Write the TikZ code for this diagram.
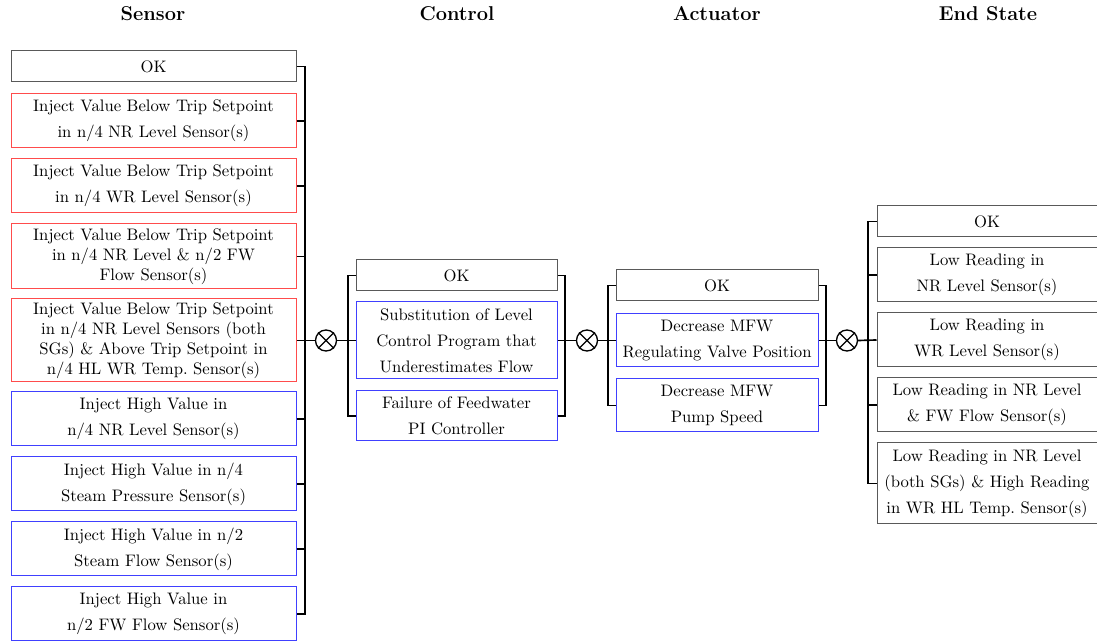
\documentclass[tikz,border=0pt]{standalone}
\usetikzlibrary{calc}
\begin{document}
\begin{tikzpicture}[x=0.6pt,y=-0.6pt,
  box/.style={draw=black!65, line width=0.6pt, fill=white, inner sep=0pt, align=center},
  okbox/.style={box},
  redbox/.style={box, draw=red!70},
  bluebox/.style={box, draw=blue!75},
  wire/.style={draw=black, line width=1pt},
  title/.style={font=\large\bfseries},
  otimes/.style={draw=black, line width=0.8pt, circle, minimum size=12.6pt, inner sep=0pt}
]
\useasboundingbox (0,0) rectangle (1097,642);

% column headings
\node[title] (tS) at (153,14) {Sensor};
\node[title] (tC) at (457,14) {Control};
\node[title] (tA) at (717,14) {Actuator};
\node[title] (tE) at (988,14) {End State};

% sensor failure modes
\begin{scope}[every node/.append style={minimum width=171pt}]
\node[okbox, minimum height=18.6pt] (s1) at (153.5,66.5) {OK};
\node[redbox, minimum height=32.4pt] (s2) at (153.5,121) {Inject Value Below Trip Setpoint\\[3.6pt] in n/4 NR Level Sensor(s)};
\node[redbox, minimum height=32.4pt] (s3) at (153.5,186) {Inject Value Below Trip Setpoint\\[3.6pt] in n/4 WR Level Sensor(s)};
\node[redbox, minimum height=39pt] (s4) at (153.5,256.5) {Inject Value Below Trip Setpoint\\ in n/4 NR Level \& n/2 FW\\ Flow Sensor(s)};
\node[redbox, minimum height=49.8pt] (s5) at (153.5,340.5) {Inject Value Below Trip Setpoint\\ in n/4 NR Level Sensors (both\\ SGs) \& Above Trip Setpoint in\\ n/4 HL WR Temp.\ Sensor(s)};
\node[bluebox, minimum height=32.4pt] (s6) at (153.5,419) {Inject High Value in\\[3.6pt] n/4 NR Level Sensor(s)};
\node[bluebox, minimum height=32.4pt] (s7) at (153.5,484) {Inject High Value in n/4\\[3.6pt] Steam Pressure Sensor(s)};
\node[bluebox, minimum height=32.4pt] (s8) at (153.5,549) {Inject High Value in n/2\\[3.6pt] Steam Flow Sensor(s)};
\node[bluebox, minimum height=32.4pt] (s9) at (153.5,614) {Inject High Value in\\[3.6pt] n/2 FW Flow Sensor(s)};
\end{scope}

% control failure modes
\begin{scope}[every node/.append style={minimum width=120.6pt}]
\node[okbox, minimum height=18.6pt] (c1) at (456.5,275.5) {OK};
\node[bluebox, minimum height=46.2pt] (c2) at (456.5,340.5) {Substitution of Level\\[3.6pt] Control Program that\\[3.6pt] Underestimates Flow};
\node[bluebox, minimum height=30pt] (c3) at (456.5,416) {Failure of Feedwater\\[3.6pt] PI Controller};
\end{scope}

% actuator failure modes
\begin{scope}[every node/.append style={minimum width=121.2pt}]
\node[okbox, minimum height=18.6pt] (a1) at (717,285.5) {OK};
\node[bluebox, minimum height=31.8pt] (a2) at (717,340.5) {Decrease MFW\\[3.6pt] Regulating Valve Position};
\node[bluebox, minimum height=31.8pt] (a3) at (717,405.5) {Decrease MFW\\[3.6pt] Pump Speed};
\end{scope}

% end states
\begin{scope}[every node/.append style={minimum width=132pt}]
\node[okbox, minimum height=18.6pt] (e1) at (987,221.5) {OK};
\node[box, minimum height=32.4pt] (e2) at (987,275) {Low Reading in\\[3.6pt] NR Level Sensor(s)};
\node[box, minimum height=32.4pt] (e3) at (987,340) {Low Reading in\\[3.6pt] WR Level Sensor(s)};
\node[box, minimum height=32.4pt] (e4) at (987,405) {Low Reading in NR Level\\[3.6pt] \& FW Flow Sensor(s)};
\node[box, minimum height=48.6pt] (e5) at (987,483.5) {Low Reading in NR Level\\[3.6pt] (both SGs) \& High Reading\\[3.6pt] in WR HL Temp.\ Sensor(s)};
\end{scope}

% combination points
\node[otimes] (x1) at (326,340.5) {};
\node[otimes] (x2) at (587,340.5) {};
\node[otimes] (x3) at (847,340.5) {};
\foreach \n in {x1,x2,x3}{
  \draw[line width=0.8pt] (\n.north west) -- (\n.south east) (\n.north east) -- (\n.south west);
}

% sensor bus
\coordinate (sb) at (305,0);
\draw[wire] (s1.east) -- (s1.east -| sb) -- (s9.east -| sb) -- (s9.east);
\foreach \n in {s2,s3,s4,s6,s7,s8}{\draw[wire] (\n.east) -- (\n.east -| sb);}
\draw[wire] (s5.east) -- (x1.west);
\draw[wire] (x1.east) -- (c2.west);

% control buses
\coordinate (cl) at (348,0);
\coordinate (cr) at (565,0);
\draw[wire] (c1.west) -- (c1.west -| cl) -- (c3.west -| cl) -- (c3.west);
\draw[wire] (c1.east) -- (c1.east -| cr) -- (c3.east -| cr) -- (c3.east);
\draw[wire] (c2.east) -- (x2.west);
\draw[wire] (x2.east) -- (a2.west);

% actuator buses
\coordinate (al) at (608,0);
\coordinate (ar) at (826,0);
\draw[wire] (a1.west) -- (a1.west -| al) -- (a3.west -| al) -- (a3.west);
\draw[wire] (a1.east) -- (a1.east -| ar) -- (a3.east -| ar) -- (a3.east);
\draw[wire] (a2.east) -- (x3.west);
\draw[wire] (x3.east) -- (e3.west);

% end state bus
\coordinate (eb) at (868,0);
\draw[wire] (e1.west) -- (e1.west -| eb) -- (e5.west -| eb) -- (e5.west);
\foreach \n in {e2,e4}{\draw[wire] (\n.west) -- (\n.west -| eb);}
\end{tikzpicture}
\end{document}
